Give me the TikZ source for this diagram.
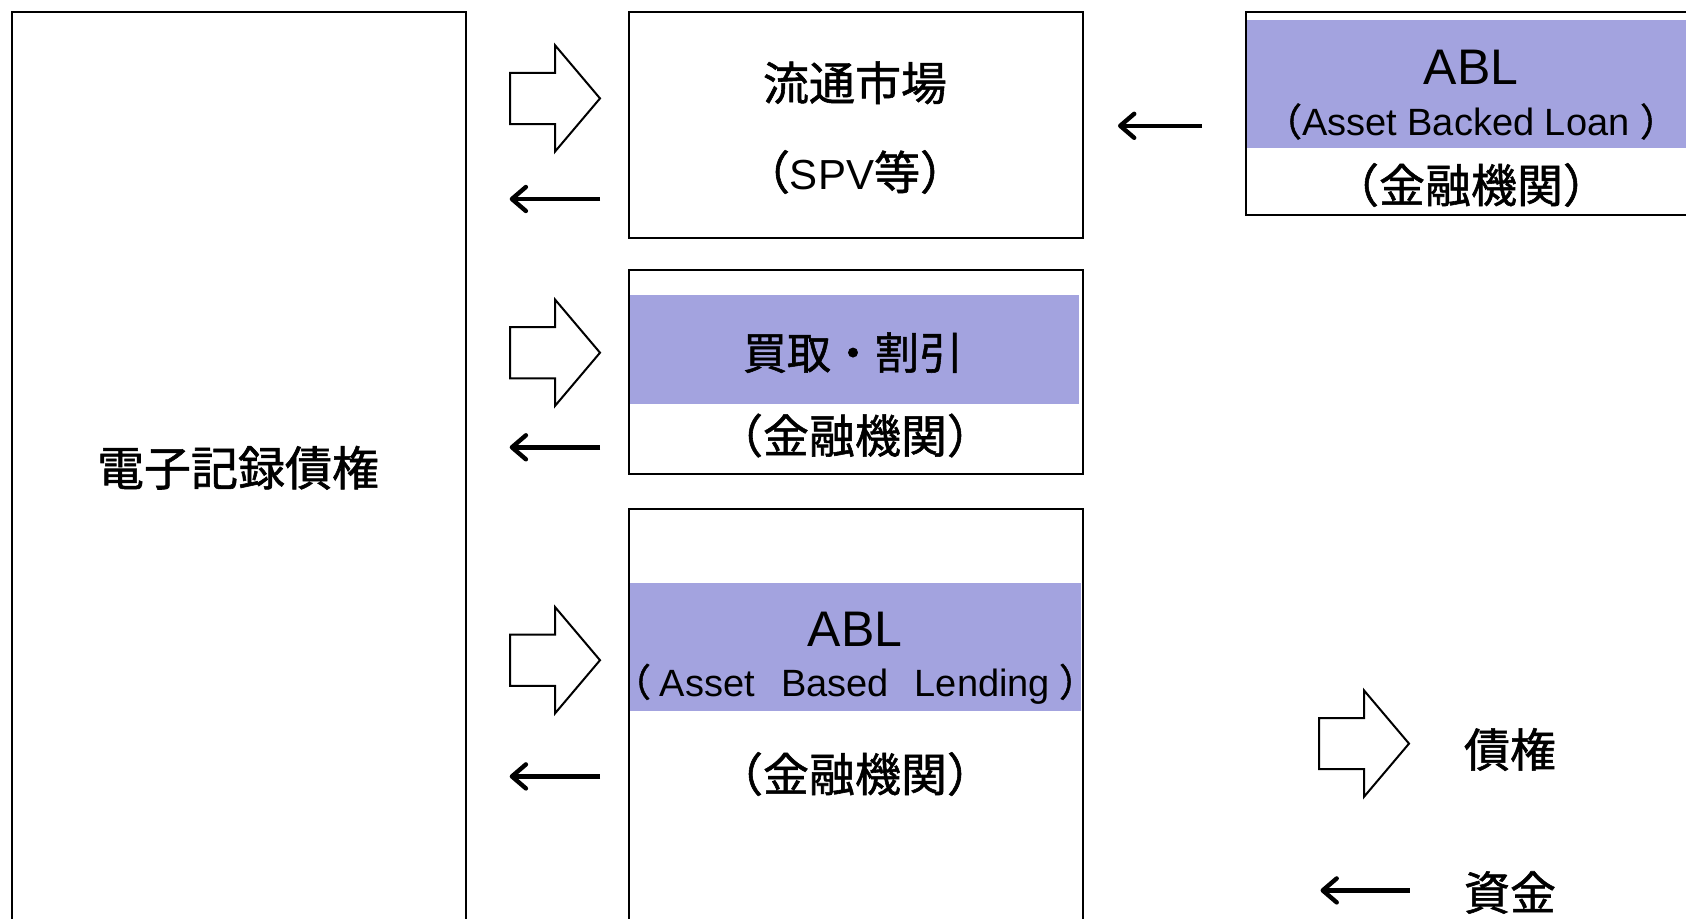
\documentclass[tikz,border=0pt]{standalone}
\usepackage{fontspec}
\setmainfont{Liberation Sans}
\newfontfamily\jp[FakeBold=1.2]{Noto Sans CJK JP}
\usetikzlibrary{arrows.meta}
\definecolor{bandblue}{RGB}{163,163,223}
\tikzset{
  frame/.style={draw, line width=2.2pt, inner sep=0pt, anchor=north west},
  jptext/.style={font=\jp\fontsize{46}{55}\selectfont, inner sep=0pt},
  abltext/.style={font=\rmfamily\fontsize{50}{60}\selectfont, inner sep=0pt},
  subtext/.style={font=\rmfamily\fontsize{38}{46}\selectfont, inner sep=0pt},
  moneyarrow/.style={line width=4.4pt, -{Straight Barb[length=14pt,width=24pt,round]}},
  blockarrow/.pic={\draw[line width=2pt, fill=white, line join=miter]
     (-45,-25.6) -- (0,-25.6) -- (0,-53.2) -- (45,0) -- (0,53.2) -- (0,25.6) -- (-45,25.6) -- cycle;}
}
\begin{document}
\begin{tikzpicture}[x=1pt,y=-1pt]
\path[use as bounding box, clip] (0,0) rectangle (1686,918);
\fill[white] (0,0) rectangle (1686,918);

% coloured bands
\fill[bandblue] (629.5,294.6) rectangle (1079,404.3);
\fill[bandblue] (629.5,582.8) rectangle (1080.5,710.8);
\fill[bandblue] (1246.5,20.4) rectangle (1690,148.4);

% frames
\node[frame, minimum width=453.75pt, minimum height=1000pt] (left) at (10.75,10.75) {};
\node[frame, minimum width=454pt, minimum height=225.85pt] (mkt) at (628,10.75) {};
\node[frame, minimum width=454pt, minimum height=204.3pt] (buy) at (628,268.8) {};
\node[frame, minimum width=454pt, minimum height=500pt] (ablb) at (628,507.5) {};
\node[frame, minimum width=460pt, minimum height=203.25pt] (ablr) at (1245,10.75) {};

% texts
\node[jptext, font=\jp\fontsize{47}{56}\selectfont] (tleft) at (238,467.8) {電子記録債権};
\node[jptext] (tmkt) at (855,82.8) {流通市場};
\node[jptext] (tspv) at (855,172) {（{\rmfamily\fontsize{42}{50}\selectfont SPV}等）};
\node[jptext, font=\jp\fontsize{44}{53}\selectfont] (tbuy) at (853,352.7) {買取・割引};
\node[jptext] (tbuyf) at (855,435.5) {（金融機関）};
\node[abltext] (tabl) at (855,629) {ABL};
\node[subtext] (tabls) at (855,684) {{\jp（}\hspace{9pt}Asset\hspace{26pt}Based\hspace{26pt}Lending\hspace{9pt}{\jp ）}};
\node[jptext] (tablf) at (855,774) {（金融機関）};
\node[abltext] (tablr) at (1471,67.7) {ABL};
\node[subtext] (tablrs) at (1471,121.5) {{\jp（}Asset Backed Loan {\jp ）}};
\node[jptext] (tablrf) at (1471,185) {（金融機関）};
\node[jptext] (lg1) at (1510,749.5) {債権};
\node[jptext] (lg2) at (1510,892.5) {資金};

% block arrows (claims)
\pic (b1) at (555,98.4) {blockarrow};
\pic (b2) at (555,352.7) {blockarrow};
\pic (b3) at (555,660.2) {blockarrow};
\pic (b4) at (1364,743.6) {blockarrow};

% money arrows
\coordinate (m1s) at (600,199);   \coordinate (m1e) at (509.7,199);
\coordinate (m2s) at (600,447.3); \coordinate (m2e) at (509.7,447.3);
\coordinate (m3s) at (600,776.4); \coordinate (m3e) at (509.7,776.4);
\coordinate (m4s) at (1202,125.8); \coordinate (m4e) at (1118,125.8);
\coordinate (m5s) at (1409.7,890.4); \coordinate (m5e) at (1320.5,890.4);
\draw[moneyarrow] (m1s) -- (m1e);
\draw[moneyarrow] (m2s) -- (m2e);
\draw[moneyarrow] (m3s) -- (m3e);
\draw[moneyarrow] (m4s) -- (m4e);
\draw[moneyarrow] (m5s) -- (m5e);
\end{tikzpicture}
\end{document}
